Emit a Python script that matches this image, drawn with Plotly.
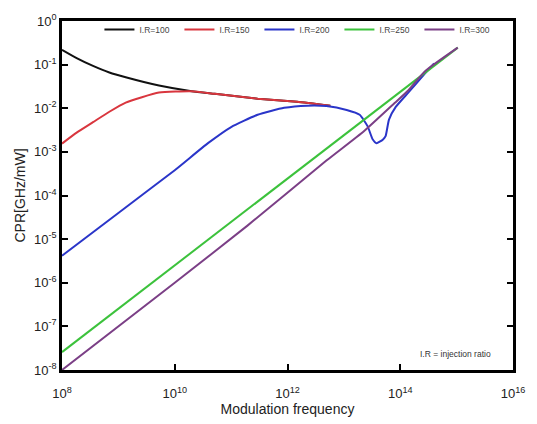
import plotly.graph_objects as go
import numpy as np

# log10(frequency) and log10(CPR)
ir100_logf = [8.0, 8.26, 8.55, 8.84, 9.13, 9.72, 10.3, 10.71, 11.47, 12.17, 12.76]
ir100_logc = [-0.66, -0.85, -1.03, -1.18, -1.29, -1.48, -1.61, -1.67, -1.78, -1.85, -1.94]

ir150_logf = [8.0, 8.26, 8.55, 8.84, 9.13, 9.72, 10.3, 10.71, 11.47, 12.17, 12.76]
ir150_logc = [-2.81, -2.56, -2.32, -2.08, -1.87, -1.64, -1.61, -1.67, -1.78, -1.85, -1.94]

ir200_logf = [8.0, 9.0, 10.0, 10.59, 11.0, 11.47, 11.94, 12.35, 12.69, 13.05,
              13.28, 13.42, 13.51, 13.58, 13.69, 13.74, 13.80, 13.92, 14.15, 14.44, 14.6]
ir200_logc = [-5.38, -4.4, -3.42, -2.8, -2.43, -2.15, -1.99, -1.94, -1.95, -2.04,
              -2.15, -2.41, -2.71, -2.80, -2.72, -2.64, -2.26, -1.97, -1.63, -1.20, -0.97]

ir250_logf = [8.0, 15.02]
ir250_logc = [-7.59, -0.61]

ir300_logf = [8.0, 10.0, 11.29, 12.69, 13.36, 13.9, 14.15, 14.44, 15.02]
ir300_logc = [-8.0, -6.0, -4.69, -3.2, -2.52, -1.88, -1.58, -1.15, -0.61]

series = [
    ("I.R=100", ir100_logf, ir100_logc, "#111111"),
    ("I.R=150", ir150_logf, ir150_logc, "#d9363e"),
    ("I.R=200", ir200_logf, ir200_logc, "#2a35c9"),
    ("I.R=250", ir250_logf, ir250_logc, "#3cc23c"),
    ("I.R=300", ir300_logf, ir300_logc, "#7b3f86"),
]

x_tickvals = [1e8, 1e10, 1e12, 1e14, 1e16]
x_ticktext = ["10<sup>8</sup>", "10<sup>10</sup>", "10<sup>12</sup>", "10<sup>14</sup>", "10<sup>16</sup>"]
y_exps = [0, -1, -2, -3, -4, -5, -6, -7, -8]
y_tickvals = [10.0 ** e for e in y_exps]
y_ticktext = ["10<sup>%d</sup>" % e for e in y_exps]

fig = go.Figure()
for name, lf, lc, col in series:
    fig.add_trace(go.Scatter(
        x=10 ** np.array(lf), y=10 ** np.array(lc), mode="lines", name=name,
        line=dict(color=col, width=2, shape="spline", smoothing=0.5)))

fig.add_annotation(x=0.956, y=0.045, xref="paper", yref="paper", xanchor="right",
                   yanchor="middle", text="I.R = injection ratio", showarrow=False,
                   font=dict(size=8.5, color="#333333"))

font_family = "Arial, Liberation Sans, sans-serif"
fig.update_layout(
    width=537, height=424,
    margin=dict(l=62, r=18, t=19, b=48),
    paper_bgcolor="white", plot_bgcolor="white",
    font=dict(family=font_family, color="#222222"),
    showlegend=True,
    legend=dict(orientation="h", x=0.083, y=1.017, xanchor="left", yanchor="top",
                font=dict(size=8.5, color="#444444"), bgcolor="rgba(0,0,0,0)",
                entrywidth=35, entrywidthmode="pixels", itemwidth=30),
    xaxis=dict(type="log", range=[8, 16], tickvals=x_tickvals, ticktext=x_ticktext,
               ticks="inside", ticklen=6, tickwidth=2, tickcolor="black",
               showline=True, linewidth=2.5, linecolor="black", mirror=True,
               showgrid=False, zeroline=False, tickfont=dict(size=13),
               ticklabelstandoff=10,
               title=dict(text="Modulation frequency", font=dict(size=14), standoff=1)),
    yaxis=dict(type="log", range=[-8, 0], tickvals=y_tickvals, ticktext=y_ticktext,
               ticks="inside", ticklen=6, tickwidth=2, tickcolor="black",
               showline=True, linewidth=2.5, linecolor="black", mirror="ticks",
               showgrid=False, zeroline=False, tickfont=dict(size=13),
               title=dict(text="CPR[GHz/mW]", font=dict(size=14), standoff=6)),
)

fig.write_html("out.html")
